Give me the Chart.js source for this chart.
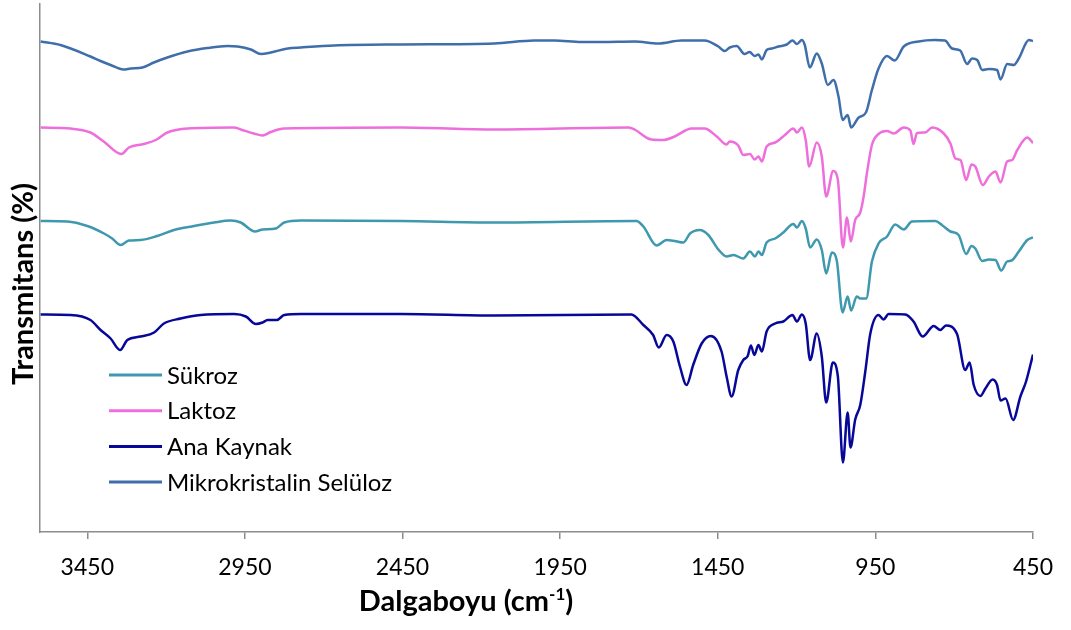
<!DOCTYPE html>
<html>
<head>
<meta charset="utf-8">
<script src="https://cdn.jsdelivr.net/npm/chart.js@4.4.1/dist/chart.umd.min.js"></script>
<style>
  html, body { margin: 0; padding: 0; background: #fff; }
  #wrap { width: 1071px; height: 630px; }
</style>
</head>
<body>
<div id="wrap"><canvas id="ftir"></canvas></div>
<script>
// FTIR spectra, wavenumber (cm-1) vs transmittance (offset, arbitrary %)
const xTicks = [3450, 2950, 2450, 1950, 1450, 950, 450];

const mccWn = [3598,3535,3440,3408,3376,3335,3312,3275,3239,3196,3132,3069,3005,2973,2931,2899,2868,2814,2772,2667,
  2454,2159,2032,1968,1882,1819,1714,1639,1565,1492,1448,1428,1412,1390,1365,1349,1333,1321,1310,1295,
  1279,1257,1231,1213,1199,1183,1174,1158,1136,1120,1101,1083,1067,1054,1038,1027,1003,980,961,940,
  913,889,860,813,761,729,707,681,659,643,627,611,590,564,553,532,511,495,463,450];
const mccT = [98.1,97.4,95.1,94.2,93.4,92.5,92.7,92.9,93.9,94.9,96.1,96.8,97.2,97.1,96.5,95.6,95.9,96.7,96.9,97.3,
  97.5,97.7,98.3,98.3,98.0,98.0,98.1,97.7,98.3,98.3,97.1,96.2,96.9,97.2,95.6,96.0,95.2,95.5,94.5,96.4,
  96.7,97.1,97.5,98.3,97.6,98.4,97.4,92.9,95.7,93.7,89.4,90.4,87.1,82.4,83.4,80.9,82.9,83.9,88.4,92.7,
  95.2,94.3,97.1,98.1,98.4,98.3,96.7,96.3,93.6,94.7,94.4,92.4,92.6,92.4,90.5,93.6,93.4,94.7,98.4,98.2];

const lakWn = [3598,3503,3440,3398,3342,3318,3270,3233,3196,3132,2985,2963,2922,2894,2868,2826,2454,2159,1733,1714,
  1671,1660,1623,1587,1533,1492,1453,1422,1412,1385,1369,1348,1333,1321,1310,1295,1268,1237,1210,1199,
  1183,1171,1160,1136,1120,1106,1084,1069,1053,1040,1028,1014,998,987,977,961,940,913,892,860,
  839,829,818,792,770,733,712,696,680,662,645,633,609,590,569,553,532,516,500,468,450];
const lakT = [80.9,80.7,79.9,78.1,75.6,76.9,77.6,78.4,79.9,80.7,80.9,80.5,79.7,79.3,80.0,80.7,80.9,80.5,80.9,80.5,
  78.7,78.5,78.4,79.1,80.7,80.7,79.1,77.5,78.1,77.3,75.4,75.6,74.5,75.1,74.1,77.1,77.9,79.4,80.7,79.9,
  80.9,78.4,73.1,77.9,75.1,67.1,72.2,70.4,56.9,62.9,58.1,62.4,63.9,67.2,71.7,77.4,79.6,80.2,79.7,80.9,
  80.3,77.6,79.8,79.9,80.9,79.7,77.7,74.7,74.4,70.4,73.5,73.1,69.4,71.1,72.1,69.9,74.1,74.4,76.4,78.9,77.8];

const sukWn = [3598,3514,3450,3397,3371,3344,3318,3281,3228,3175,3111,3048,2995,2963,2918,2894,2852,2825,2772,2454,
  2159,1708,1686,1644,1612,1586,1559,1538,1507,1480,1448,1422,1400,1369,1348,1332,1321,1310,1295,1268,
  1242,1210,1199,1183,1171,1157,1136,1120,1106,1088,1072,1054,1038,1027,1009,998,979,961,940,913,
  887,860,834,760,739,712,686,662,645,633,611,590,569,551,532,518,495,468,450];
const sukT = [62.2,62.1,61.2,59.7,58.7,57.4,58.3,58.4,59.2,60.4,61.2,61.9,62.3,61.9,60.1,60.5,60.7,61.9,62.3,62.2,
  61.9,62.2,61.1,57.3,58.4,58.2,57.9,59.7,60.4,59.4,56.5,55.1,55.4,54.7,56.1,55.1,56.1,55.4,57.9,58.7,
  59.9,61.6,60.9,62.2,60.7,56.9,58.5,56.4,51.7,55.9,54.1,43.9,47.1,44.3,47.1,46.7,46.7,54.1,57.7,59.1,
  61.5,60.5,62.1,62.2,61.4,60.1,59.4,55.6,57.2,56.7,54.2,54.5,54.4,52.3,54.1,54.3,56.1,58.4,58.9];

const anaWn = [3598,3503,3440,3408,3376,3346,3323,3281,3238,3207,3154,3090,2984,2947,2915,2894,2878,2849,2825,2772,
  2454,2159,1724,1686,1655,1637,1612,1591,1570,1549,1528,1501,1472,1438,1422,1406,1385,1369,1355,1345,
  1334,1321,1310,1295,1268,1242,1213,1199,1183,1171,1157,1136,1120,1106,1085,1069,1053,1038,1029,1014,
  998,982,966,940,924,908,855,829,800,765,744,726,691,665,651,638,617,601,578,564,
  553,537,513,490,472,450];
const anaT = [43.5,43.4,42.4,40.4,38.7,36.4,38.4,39.1,39.9,41.7,42.7,43.4,43.6,43.1,41.6,41.9,42.4,42.4,43.4,43.6,
  43.6,43.3,43.5,41.4,39.4,36.9,39.4,38.1,33.1,29.4,33.4,37.7,39.2,36.1,31.1,27.1,32.4,34.4,35.2,37.3,
  35.4,37.4,36.1,40.1,41.7,42.1,43.4,42.1,43.5,41.7,34.4,39.7,35.1,25.9,33.9,31.1,13.9,23.9,16.9,22.5,
  25.4,32.1,39.7,43.4,42.5,43.6,43.5,42.1,39.1,41.2,40.4,41.3,39.6,32.4,33.9,29.4,27.2,28.7,30.5,29.4,
  26.3,26.7,22.4,27.1,30.1,35.5];

const toPoints = (wn, t) => wn.map((x, i) => ({ x: x, y: t[i] }));

const series = [
  { label: 'Sükroz', color: '#3E98AE', data: toPoints(sukWn, sukT) },
  { label: 'Laktoz', color: '#EE6FDC', data: toPoints(lakWn, lakT) },
  { label: 'Ana Kaynak', color: '#07079A', data: toPoints(anaWn, anaT) },
  { label: 'Mikrokristalin Selüloz', color: '#3F6EAA', data: toPoints(mccWn, mccT) }
];

const axisGrey = '#8c8c8c';

// legend inside the plot + axis titles
const textPlugin = {
  id: 'ftirText',
  afterDraw(chart) {
    const ctx = chart.ctx;
    ctx.save();

    ctx.font = '24px Lato';
    ctx.textBaseline = 'middle';
    ctx.textAlign = 'left';
    series.forEach((s, i) => {
      const y = 375 + i * 35.7;
      ctx.strokeStyle = s.color;
      ctx.lineWidth = 3;
      ctx.beginPath();
      ctx.moveTo(109, y);
      ctx.lineTo(162, y);
      ctx.stroke();
      ctx.fillStyle = '#000';
      ctx.fillText(s.label, 167, y + 1);
    });

    // x title with superscript
    ctx.fillStyle = '#000';
    ctx.textBaseline = 'alphabetic';
    const big = 'bold 29px Lato', small = 'bold 17px Lato';
    ctx.font = big;
    const w1 = ctx.measureText('Dalgaboyu (cm').width;
    const w3 = ctx.measureText(')').width;
    ctx.font = small;
    const w2 = ctx.measureText('-1').width;
    let x = 466 - (w1 + w2 + w3) / 2;
    const base = 611;
    ctx.font = big;
    ctx.fillText('Dalgaboyu (cm', x, base);
    x += w1;
    ctx.font = small;
    ctx.fillText('-1', x, base - 11);
    x += w2;
    ctx.font = big;
    ctx.fillText(')', x, base);

    // y title
    ctx.translate(33, 284);
    ctx.rotate(-Math.PI / 2);
    ctx.textAlign = 'center';
    ctx.font = big;
    ctx.fillText('Transmitans (%)', 0, 0);
    ctx.restore();
  }
};

new Chart(document.getElementById('ftir'), {
  type: 'line',
  data: {
    datasets: series.map(s => ({
      label: s.label,
      data: s.data,
      borderColor: s.color,
      backgroundColor: s.color,
      borderWidth: 2.5,
      pointRadius: 0,
      fill: false,
      cubicInterpolationMode: 'monotone'
    }))
  },
  options: {
    responsive: true,
    maintainAspectRatio: false,
    animation: false,
    layout: { padding: { top: 4, right: 38, bottom: 0, left: 0 } },
    plugins: {
      legend: { display: false },
      tooltip: { enabled: false }
    },
    scales: {
      x: {
        type: 'linear',
        reverse: true,
        min: 450,
        max: 3600,
        afterBuildTicks: scale => { scale.ticks = xTicks.map(v => ({ value: v })); },
        afterFit: scale => { scale.height = 98; },
        grid: { drawOnChartArea: false, drawTicks: true, tickLength: 7, color: axisGrey, lineWidth: 1.5 },
        border: { display: true, color: axisGrey, width: 1.5 },
        ticks: {
          color: '#000',
          font: { family: 'Lato', size: 23 },
          padding: 15,
          maxRotation: 0,
          autoSkip: false,
          callback: v => String(v)
        }
      },
      y: {
        min: 0,
        max: 105.6,
        afterFit: scale => { scale.width = 40; },
        grid: { display: false },
        border: { display: true, color: axisGrey, width: 1.5 },
        ticks: { display: false }
      }
    }
  },
  plugins: [textPlugin]
});
</script>
</body>
</html>
